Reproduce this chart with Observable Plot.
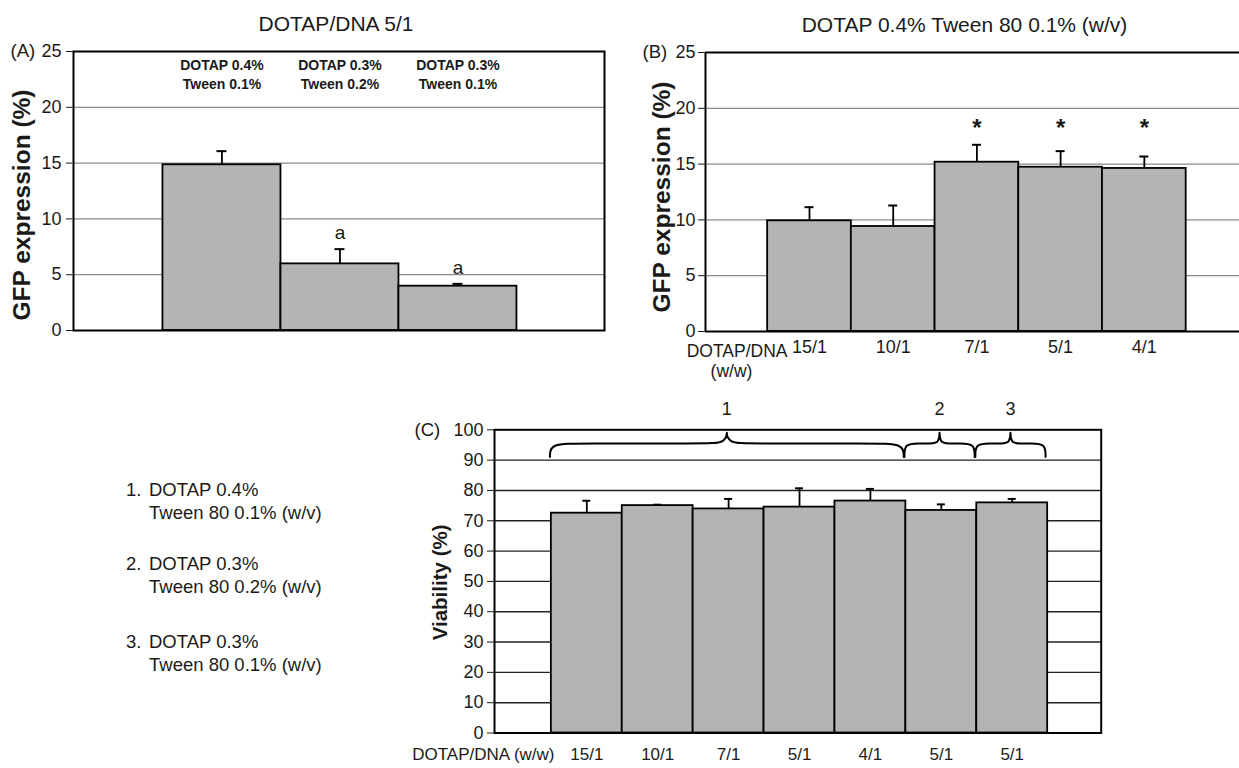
<!DOCTYPE html>
<html><head><meta charset="utf-8">
<script src="https://cdn.jsdelivr.net/npm/d3@7"></script>
<script src="https://cdn.jsdelivr.net/npm/@observablehq/plot@0.6"></script>
<style>
body{margin:0;background:#fff;overflow:hidden;font-family:"Liberation Sans",Arial,sans-serif;}
#root{position:relative;width:1239px;height:768px;}
.panel{position:absolute;}
.legend{position:absolute;font-size:18.5px;color:#1a1a1a;line-height:23px;white-space:pre;}
.legend .num{display:inline-block;width:23px;}
.legend .l2{padding-left:23px;}
</style></head><body><div id="root"></div>
<script>
// ---------- data ----------
const catsA = ["DOTAP 0.4%\nTween 0.1%", "DOTAP 0.3%\nTween 0.2%", "DOTAP 0.3%\nTween 0.1%"];
const gfpA = [14.85, 5.97, 3.97];
const errA = [1.22, 1.32, 0.21];
const sigA = ["", "a", "a"];

const ratiosB = ["15/1", "10/1", "7/1", "5/1", "4/1"];
const gfpB = [9.92, 9.41, 15.17, 14.72, 14.61];
const errB = [1.22, 1.88, 1.56, 1.44, 1.07];
const sigB = ["", "", "*", "*", "*"];

const ratiosC = ["15/1", "10/1", "7/1", "5/1", "4/1", "5/1", "5/1"];
const viabC = [72.5, 75.0, 73.9, 74.5, 76.5, 73.4, 75.9];
const errC = [4.1, 0.3, 3.3, 6.2, 4.0, 2.0, 1.3];
const groupsC = [
  {label: "1", first: 0, last: 4},
  {label: "2", first: 5, last: 5},
  {label: "3", first: 6, last: 6}
];

const ticksGFP = [0, 5, 10, 15, 20, 25];
const ticksViab = [0, 10, 20, 30, 40, 50, 60, 70, 80, 90, 100];

const legendItems = [
  {num: "1.", l1: "DOTAP 0.4%", l2: "Tween 80 0.1% (w/v)"},
  {num: "2.", l1: "DOTAP 0.3%", l2: "Tween 80 0.2% (w/v)"},
  {num: "3.", l1: "DOTAP 0.3%", l2: "Tween 80 0.1% (w/v)"}
];

// ---------- helpers ----------
const FONT = "Liberation Sans, Arial, sans-serif";
const BAR_FILL = "#b4b4b4";
const root = document.getElementById("root");

function place(svg, left, top) {
  const d = document.createElement("div");
  d.className = "panel";
  d.style.left = left + "px";
  d.style.top = top + "px";
  d.appendChild(svg);
  root.appendChild(d);
}

function rowsOf(vals, errs, extra) {
  return vals.map((v, i) => ({i, v, top: v + errs[i], ...(extra ? extra(i) : {})}));
}

function barMarks(rows, capHalf) {
  return [
    Plot.rectY(rows, {x1: d => d.i - 0.5, x2: d => d.i + 0.5, y1: 0, y2: "v",
      fill: BAR_FILL, stroke: "#000", strokeWidth: 1.8}),
    Plot.ruleX(rows, {x: "i", y1: "v", y2: "top", stroke: "#000", strokeWidth: 1.8}),
    Plot.ruleY(rows, {y: "top", x1: d => d.i - capHalf, x2: d => d.i + capHalf,
      stroke: "#000", strokeWidth: 2})
  ];
}

const T = {lineAnchor: "middle"};

// ---------- Panel A ----------
{
  const W = 620, H = 370, mL = 73, mR = 16, mT = 51, mB = 40;
  const xDom = [-1.258, 3.242];
  const band = (W - mL - mR) / (xDom[1] - xDom[0]);
  const rows = rowsOf(gfpA, errA, i => ({cat: catsA[i], sig: sigA[i]}));
  const svg = Plot.plot({
    width: W, height: H, marginLeft: mL, marginRight: mR, marginTop: mT, marginBottom: mB,
    style: {fontFamily: FONT, color: "#1a1a1a", background: "transparent", overflow: "visible"},
    x: {type: "linear", domain: xDom, axis: null},
    y: {domain: [0, 25]},
    marks: [
      Plot.ruleY(ticksGFP.slice(1, -1), {stroke: "#8a8a8a", strokeWidth: 1.2}),
      ...barMarks(rows, 5 / band),
      Plot.frame({stroke: "#000", strokeWidth: 2}),
      Plot.axisY({ticks: ticksGFP, tickSize: 7, tickPadding: 5, fontSize: 18, label: null}),
      Plot.text(rows, {x: "i", y: 25, text: "cat", dy: 21.5, lineHeight: 1.36,
        fontSize: 14, fontWeight: "bold", lineAnchor: "middle", letterSpacing: "-0.3px"}),
      Plot.text(rows.filter(d => d.sig), {x: "i", y: "top", text: "sig", dy: -16, fontSize: 19, ...T}),
      Plot.text(["DOTAP/DNA 5/1"], {frameAnchor: "top", dy: -27, dx: -3, fontSize: 21, ...T}),
      Plot.text(["(A)"], {frameAnchor: "top-left", dx: -63, textAnchor: "start", fontSize: 18.5, ...T}),
      Plot.text(["GFP expression (%)"], {frameAnchor: "left", dx: -51, dy: 14, rotate: -90,
        textAnchor: "middle", fontSize: 24.5, fontWeight: "bold", ...T})
    ]
  });
  place(svg, 0, 0);
}

// ---------- Panel B ----------
{
  const W = 619, H = 385, mL = 85, mR = 0, mT = 52, mB = 54;
  const xDom = [-1.2425, 5.137];
  const band = (W - mL - mR) / (xDom[1] - xDom[0]);
  const rows = rowsOf(gfpB, errB, i => ({sig: sigB[i]}));
  const svg = Plot.plot({
    width: W, height: H, marginLeft: mL, marginRight: mR, marginTop: mT, marginBottom: mB,
    style: {fontFamily: FONT, color: "#1a1a1a", background: "transparent", overflow: "visible"},
    x: {type: "linear", domain: xDom},
    y: {domain: [0, 25]},
    marks: [
      Plot.ruleY(ticksGFP.slice(1, -1), {stroke: "#8a8a8a", strokeWidth: 1.2}),
      ...barMarks(rows, 4.5 / band),
      Plot.ruleY([0, 25], {stroke: "#000", strokeWidth: 2}),
      Plot.ruleX([xDom[0]], {stroke: "#000", strokeWidth: 2}),
      Plot.axisY({ticks: ticksGFP, tickSize: 7, tickPadding: 3, fontSize: 18, label: null}),
      Plot.axisX({ticks: ratiosB.map((_, i) => i), tickFormat: i => ratiosB[i],
        tickSize: 0, tickPadding: 9, fontSize: 18, label: null}),
      Plot.text(rows.filter(d => d.sig), {x: "i", y: 18.2, text: "sig", fontSize: 24, fontWeight: "bold", ...T}),
      Plot.text(["DOTAP 0.4% Tween 80 0.1% (w/v)"], {frameAnchor: "top", dx: -8, dy: -27, fontSize: 21, ...T}),
      Plot.text(["(B)"], {frameAnchor: "top-left", dx: -63, textAnchor: "start", fontSize: 18.5, ...T}),
      Plot.text(["GFP expression (%)"], {frameAnchor: "left", dx: -43, dy: 5, rotate: -90,
        textAnchor: "middle", fontSize: 24.5, fontWeight: "bold", ...T}),
      Plot.text(["DOTAP/DNA"], {frameAnchor: "bottom-left", dx: 82, dy: 19.5, textAnchor: "end", fontSize: 17.5, ...T}),
      Plot.text(["(w/w)"], {frameAnchor: "bottom-left", dx: 26, dy: 39.5, textAnchor: "middle", fontSize: 17.5, ...T})
    ]
  });
  place(svg, 620, 0);
}

// ---------- Panel C ----------
{
  const W = 740, H = 388, mL = 114, mR = 19.3, mT = 49.3, mB = 35.5;
  const xDom = [-1.302, 7.255];
  const band = (W - mL - mR) / (xDom[1] - xDom[0]);
  const rows = rowsOf(viabC, errC);
  // curly braces built from the bar groups
  const y0 = 91, y1 = 95.5, yTip = 100.75;
  const bracePts = [];
  const braceLabels = [];
  for (const g of groupsC) {
    const a = g.first - 0.52, b = g.last + 0.47, m = (a + b) / 2, w = b - a;
    const re = Math.min(0.45, w * 0.21), rt = Math.min(0.34, w * 0.13);
    const pts = [[a, y0], [a, y1], [a + re, y1], [m - rt, y1], [m, y1], [m, yTip],
                 [m, y1], [m + rt, y1], [b - re, y1], [b, y1], [b, y0]];
    for (const [x, y] of pts) bracePts.push({label: g.label, x, y});
    braceLabels.push({label: g.label, x: m});
  }
  const svg = Plot.plot({
    width: W, height: H, marginLeft: mL, marginRight: mR, marginTop: mT, marginBottom: mB,
    style: {fontFamily: FONT, color: "#1a1a1a", background: "transparent", overflow: "visible"},
    x: {type: "linear", domain: xDom},
    y: {domain: [0, 100]},
    marks: [
      Plot.ruleY(ticksViab.slice(1, -1), {stroke: "#222", strokeWidth: 1.4}),
      ...barMarks(rows, 4 / band),
      Plot.frame({stroke: "#000", strokeWidth: 2}),
      Plot.line(bracePts, {x: "x", y: "y", z: "label", curve: "basis", stroke: "#000", strokeWidth: 2}),
      Plot.text(braceLabels, {x: "x", y: 106.9, text: "label", fontSize: 18, ...T}),
      Plot.axisY({ticks: ticksViab, tickSize: 7, tickPadding: 4, fontSize: 18, label: null}),
      Plot.axisX({ticks: ratiosC.map((_, i) => i), tickFormat: i => ratiosC[i],
        tickSize: 0, tickPadding: 15, fontSize: 17, label: null}),
      Plot.text(["(C)"], {frameAnchor: "top-left", dx: -80, textAnchor: "start", fontSize: 18.5, ...T}),
      Plot.text(["Viability (%)"], {frameAnchor: "left", dx: -54, dy: 1, rotate: -90,
        textAnchor: "middle", fontSize: 20.5, fontWeight: "bold", ...T}),
      Plot.text(["DOTAP/DNA (w/w)"], {frameAnchor: "bottom-left", dx: 60, dy: 21.5,
        textAnchor: "end", fontSize: 17, ...T})
    ]
  });
  place(svg, 380, 380);
}

// ---------- legend ----------
const legendTops = [478, 552, 630];
legendItems.forEach((it, k) => {
  const d = document.createElement("div");
  d.className = "legend";
  d.style.left = "126px";
  d.style.top = legendTops[k] + "px";
  d.innerHTML = `<div><span class="num">${it.num}</span>${it.l1}</div><div class="l2">${it.l2}</div>`;
  root.appendChild(d);
});
</script>
</body></html>
